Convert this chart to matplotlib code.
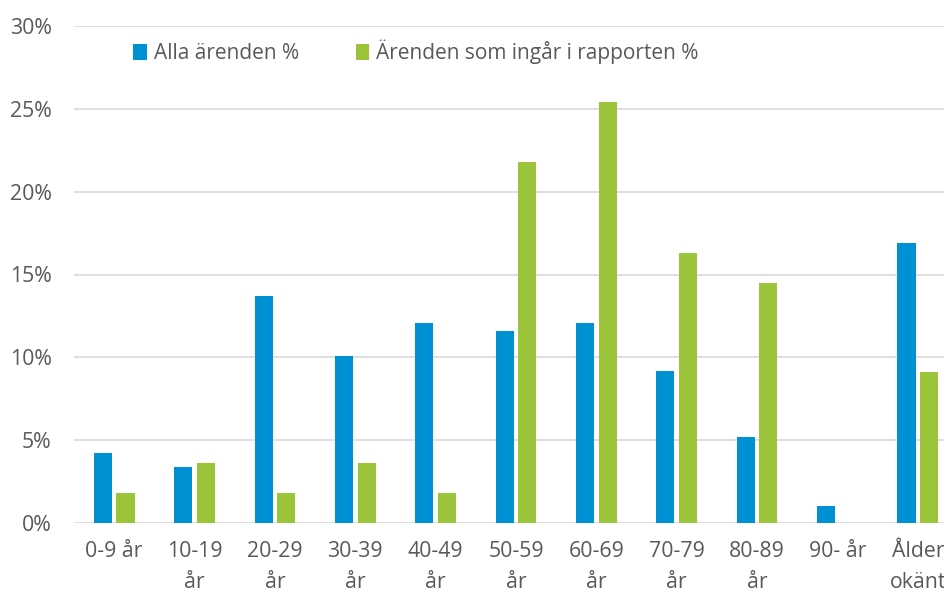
import numpy as np
import matplotlib.pyplot as plt
from matplotlib.ticker import FuncFormatter

categories = ['0-9 år', '10-19\når', '20-29\når', '30-39\når', '40-49\når',
              '50-59\når', '60-69\når', '70-79\når', '80-89\når', '90- år',
              'Ålder\nokänt']
alla = [4.2, 3.4, 13.7, 10.1, 12.1, 11.6, 12.1, 9.2, 5.2, 1.0, 16.9]
rapport = [1.8, 3.6, 1.8, 3.6, 1.8, 21.8, 25.4, 16.3, 14.5, 0.0, 9.1]

blue = '#0090d4'
green = '#9bc43b'
text_col = '#595959'

plt.rcParams['font.family'] = ['Open Sans', 'DejaVu Sans']

fig = plt.figure(figsize=(9.45, 5.91), dpi=100)
# axes extends a bit past right edge, like the clipped original
ax = fig.add_axes([74 / 945, (591 - 523) / 591, 884 / 945, 497 / 591])

x = np.arange(len(categories))
w = 0.225
ax.bar(x - w / 2 - 0.028, alla, width=w, color=blue, label='Alla ärenden %', zorder=3)
ax.bar(x + w / 2 + 0.028, rapport, width=w, color=green,
       label='Ärenden som ingår i rapporten %', zorder=3)

ax.set_xlim(-0.5, len(categories) - 0.5)
ax.set_ylim(0, 30)
ax.set_yticks(range(0, 31, 5))
ax.yaxis.set_major_formatter(FuncFormatter(lambda v, p: f'{int(v)}%'))
ax.grid(axis='y', color='#d9d9d9', linewidth=1.2, zorder=0)
ax.set_xticks(x)
ax.set_xticklabels(categories, linespacing=1.6)
ax.tick_params(axis='both', length=0, labelsize=15.3, colors=text_col)
ax.tick_params(axis='x', pad=13)
ax.tick_params(axis='y', pad=16)
for s in ax.spines.values():
    s.set_visible(False)

leg = ax.legend(loc='upper left', bbox_to_anchor=(0.046, 1.01), ncol=2,
                frameon=False, fontsize=15, handlelength=0.65, handleheight=0.75,
                handletextpad=0.35, columnspacing=2.7)
for t in leg.get_texts():
    t.set_color(text_col)

fig.savefig('out.png', dpi=100)
